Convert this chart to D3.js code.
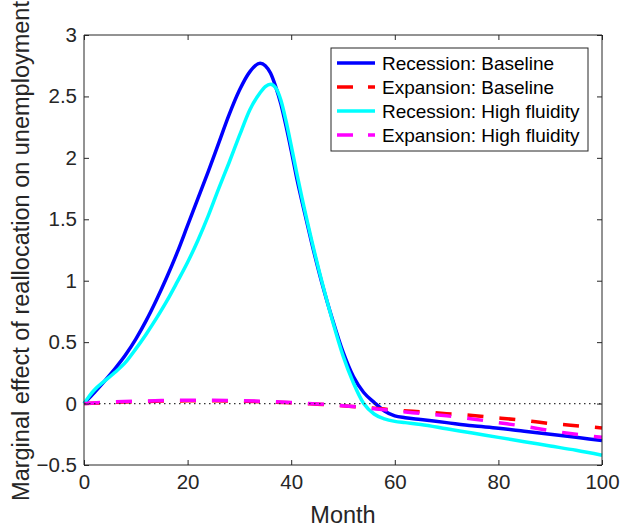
<!DOCTYPE html>
<html>
<head>
<meta charset="utf-8">
<script src="https://cdn.jsdelivr.net/npm/d3@7"></script>
<style>
  html, body { margin: 0; padding: 0; background: #fff; }
  svg { display: block; font-family: "Liberation Sans", Arial, Helvetica, sans-serif; }
</style>
</head>
<body>
<svg id="chart" width="620" height="527"></svg>
<script>
// ---------------- data ----------------
const seriesNames = ["Recession: Baseline", "Expansion: Baseline", "Recession: High fluidity", "Expansion: High fluidity"];

const recMonths = [0, 1, 2, 4, 6, 8, 10, 12, 14, 16, 18, 20, 22, 24, 26, 28, 30, 32, 34, 35, 36, 37, 38, 39, 40, 41, 42, 44, 46, 48, 50, 52, 54, 56, 58, 60, 62, 65, 70, 75, 80, 85, 90, 95, 100];
const recBaseline = [0, 0.045, 0.09, 0.185, 0.285, 0.395, 0.525, 0.675, 0.845, 1.03, 1.23, 1.45, 1.67, 1.89, 2.12, 2.35, 2.55, 2.70, 2.77, 2.75, 2.69, 2.58, 2.44, 2.26, 2.06, 1.85, 1.66, 1.30, 0.97, 0.68, 0.42, 0.22, 0.09, 0.01, -0.06, -0.10, -0.115, -0.13, -0.155, -0.18, -0.20, -0.225, -0.25, -0.275, -0.30];
const recHighFluidity = [0, 0.06, 0.11, 0.185, 0.255, 0.335, 0.445, 0.565, 0.695, 0.835, 0.99, 1.15, 1.33, 1.53, 1.75, 1.96, 2.18, 2.39, 2.53, 2.58, 2.60, 2.57, 2.47, 2.30, 2.10, 1.89, 1.69, 1.32, 0.98, 0.67, 0.39, 0.17, 0.0, -0.085, -0.125, -0.145, -0.155, -0.17, -0.205, -0.24, -0.275, -0.31, -0.345, -0.38, -0.42];

const expMonths = [0, 5, 10, 15, 20, 25, 30, 35, 40, 45, 50, 55, 58, 60, 65, 70, 75, 80, 85, 90, 95, 100];
const expBaseline = [0, 0.008, 0.015, 0.02, 0.022, 0.022, 0.02, 0.014, 0.006, -0.005, -0.017, -0.035, -0.045, -0.052, -0.067, -0.082, -0.097, -0.117, -0.138, -0.162, -0.18, -0.198];
const expHighFluidity = [0, 0.012, 0.019, 0.024, 0.027, 0.027, 0.024, 0.018, 0.009, -0.003, -0.017, -0.037, -0.05, -0.06, -0.08, -0.1, -0.125, -0.155, -0.185, -0.22, -0.25, -0.275];

const xTicks = [0, 20, 40, 60, 80, 100];
const yTicks = [-0.5, 0, 0.5, 1, 1.5, 2, 2.5, 3];
const xLabel = "Month";
const yLabel = "Marginal effect of reallocation on unemployment";

// ---------------- layout ----------------
const svg = d3.select("#chart");
const pL = 84, pR = 602, pT = 35, pB = 465;
const axisColor = "#262626";

const x = d3.scaleLinear().domain([0, 100]).range([pL, pR]);
const y = d3.scaleLinear().domain([-0.5, 3]).range([pB, pT]);

const series = [
  { name: seriesNames[0], xs: recMonths, ys: recBaseline, color: "#0000ff", dash: null },
  { name: seriesNames[1], xs: expMonths, ys: expBaseline, color: "#ff0000", dash: "16,16" },
  { name: seriesNames[2], xs: recMonths, ys: recHighFluidity, color: "#00ffff", dash: null },
  { name: seriesNames[3], xs: expMonths, ys: expHighFluidity, color: "#ff00ff", dash: "16,16" }
];

const line = d3.line().x(d => x(d[0])).y(d => y(d[1])).curve(d3.curveMonotoneX);

const plot = svg.append("g");
series.forEach(s => {
  plot.append("path")
    .datum(s.xs.map((m, i) => [m, s.ys[i]]))
    .attr("d", line)
    .attr("fill", "none")
    .attr("stroke", s.color)
    .attr("stroke-width", 3.5)
    .attr("stroke-dasharray", s.dash)
    .attr("stroke-linejoin", "round");
});

// zero dotted line
plot.append("line")
  .attr("x1", x(0)).attr("x2", x(100))
  .attr("y1", y(0)).attr("y2", y(0))
  .attr("stroke", "#333")
  .attr("stroke-width", 1.2)
  .attr("stroke-dasharray", "1.5,3.5");

// axes
const fontTick = 20.5;
const xAxisB = d3.axisBottom(x).tickValues(xTicks).tickSize(-5).tickPadding(9).tickFormat(d3.format("d"));
const xAxisT = d3.axisTop(x).tickValues(xTicks).tickSize(-5).tickFormat("");
const yAxisL = d3.axisLeft(y).tickValues(yTicks).tickSize(-5).tickPadding(7).tickFormat(d => d3.format("")(d));
const yAxisR = d3.axisRight(y).tickValues(yTicks).tickSize(-5).tickFormat("");

function styleAxis(g) {
  g.select(".domain").attr("stroke", axisColor).attr("stroke-width", 1);
  g.selectAll(".tick line").attr("stroke", axisColor).attr("stroke-width", 1);
  g.selectAll(".tick text").attr("fill", axisColor).style("font-size", fontTick + "px")
    .style("font-family", "'Liberation Sans', Arial, sans-serif");
}

svg.append("g").attr("transform", `translate(0,${pB})`).call(xAxisB).call(styleAxis)
  .selectAll(".domain").attr("d", `M${pL},0H${pR}`);
svg.append("g").attr("transform", `translate(0,${pT})`).call(xAxisT).call(styleAxis)
  .selectAll(".domain").attr("d", `M${pL},0H${pR}`);
svg.append("g").attr("transform", `translate(${pL},0)`).call(yAxisL).call(styleAxis)
  .selectAll(".domain").attr("d", `M0,${pT}V${pB}`);
svg.append("g").attr("transform", `translate(${pR},0)`).call(yAxisR).call(styleAxis)
  .selectAll(".domain").attr("d", `M0,${pT}V${pB}`);

// axis labels
svg.append("text")
  .attr("x", (pL + pR) / 2).attr("y", 523)
  .attr("text-anchor", "middle")
  .attr("fill", axisColor)
  .style("font-size", "23.5px")
  .text(xLabel);

svg.append("text")
  .attr("transform", `translate(29,${(pT + pB) / 2 + 1}) rotate(-90)`)
  .attr("text-anchor", "middle")
  .attr("fill", axisColor)
  .style("font-size", "23.5px")
  .text(yLabel);

// legend
const lg = svg.append("g");
const lx0 = 331, ly0 = 48, lw = 257, lh = 103;
lg.append("rect").attr("x", lx0).attr("y", ly0).attr("width", lw).attr("height", lh)
  .attr("fill", "#fff").attr("stroke", axisColor).attr("stroke-width", 1);
const rowY = [63, 87, 111, 135];
series.forEach((s, i) => {
  lg.append("line")
    .attr("x1", 337).attr("x2", 375)
    .attr("y1", rowY[i]).attr("y2", rowY[i])
    .attr("stroke", s.color).attr("stroke-width", 3.5)
    .attr("stroke-dasharray", s.dash ? "16,15" : null);
  lg.append("text")
    .attr("x", 382).attr("y", rowY[i])
    .attr("dy", "0.35em")
    .attr("fill", "#000")
    .style("font-size", "19px")
    .text(s.name);
});
</script>
</body>
</html>
